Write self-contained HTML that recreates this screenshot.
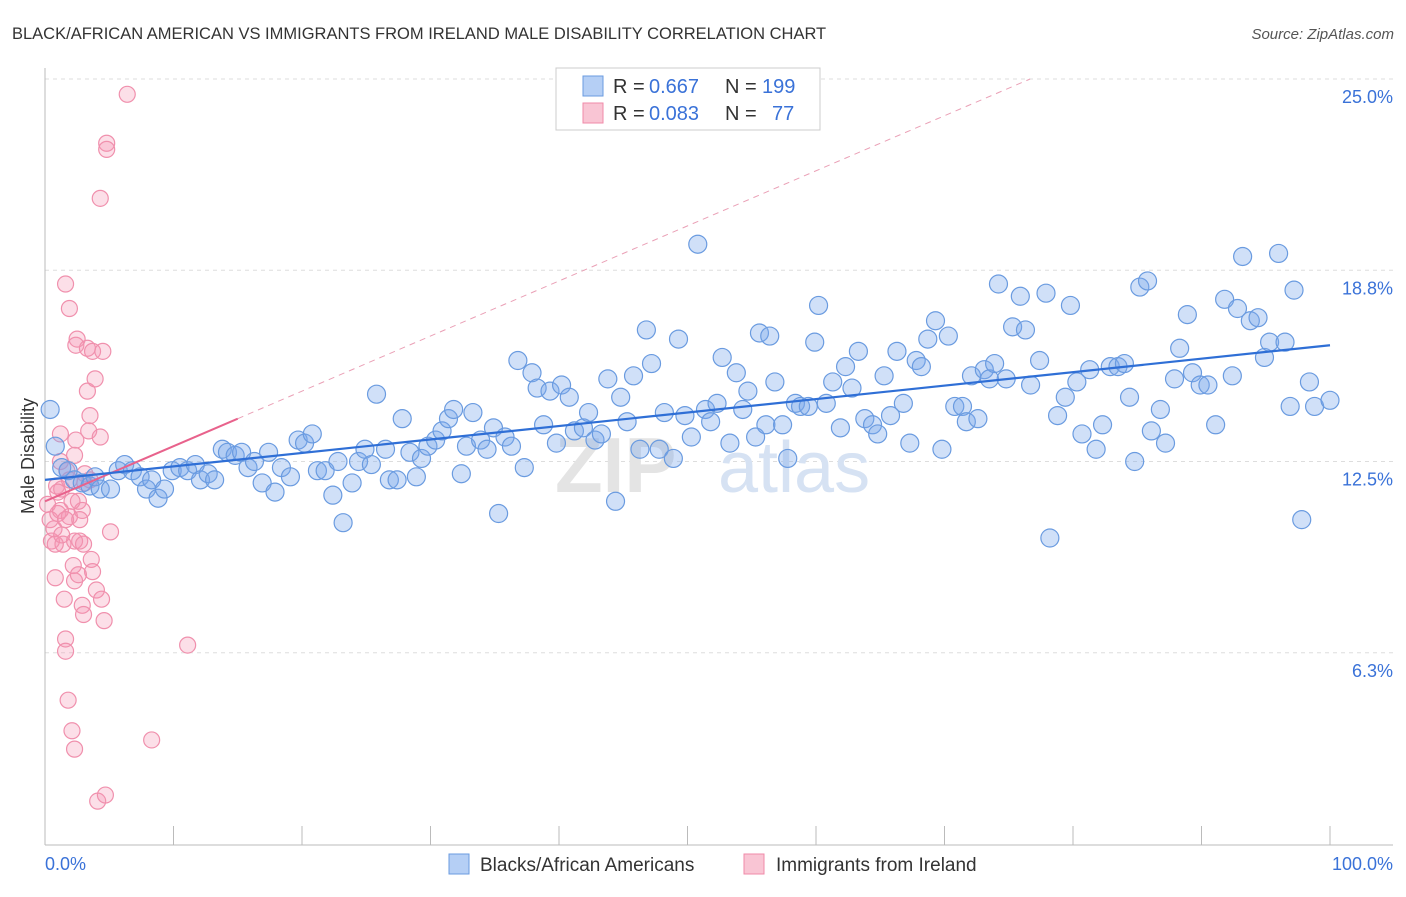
<!DOCTYPE html>
<html><head><meta charset="utf-8"><style>
body{margin:0;background:#fff;font-family:"Liberation Sans",sans-serif;}
svg text{font-family:"Liberation Sans",sans-serif;}
</style></head><body>
<svg id="chart" width="1406" height="892" xmlns="http://www.w3.org/2000/svg">
<text x="12" y="39" font-size="16.5" fill="#333">BLACK/AFRICAN AMERICAN VS IMMIGRANTS FROM IRELAND MALE DISABILITY CORRELATION CHART</text>
<text x="1394" y="39" font-size="15" fill="#555" font-style="italic" text-anchor="end">Source: ZipAtlas.com</text>
<g id="grid"></g>
<text x="555" y="492" font-size="78" font-weight="bold" fill="#e4e4e4">ZIP</text>
<text x="718" y="492" font-size="72" fill="#d6e2f3">atlas</text>
<g id="axes"></g>
<g id="pinkpts"></g>
<g id="bluepts"></g>
<g id="trends"></g>
<g>
<rect x="556" y="68" width="264" height="62" fill="#fff" stroke="#ccc"/>
<rect x="583" y="76" width="20" height="20" fill="#b5cff5" stroke="#6a9be0"/>
<text x="613" y="93" font-size="20" fill="#333">R =</text>
<text x="649" y="93" font-size="20" fill="#3a72d8">0.667</text>
<text x="725" y="93" font-size="20" fill="#333">N =</text>
<text x="762" y="93" font-size="20" fill="#3a72d8">199</text>
<rect x="583" y="103" width="20" height="20" fill="#f9c5d4" stroke="#f08aa8"/>
<text x="613" y="120" font-size="20" fill="#333">R =</text>
<text x="649" y="120" font-size="20" fill="#3a72d8">0.083</text>
<text x="725" y="120" font-size="20" fill="#333">N =</text>
<text x="772" y="120" font-size="20" fill="#3a72d8">77</text>
</g>
<g>
<rect x="449" y="854" width="20" height="20" fill="#b5cff5" stroke="#6a9be0"/>
<text x="480" y="871" font-size="19" fill="#333">Blacks/African Americans</text>
<rect x="744" y="854" width="20" height="20" fill="#f9c5d4" stroke="#f08aa8"/>
<text x="776" y="871" font-size="19" fill="#333">Immigrants from Ireland</text>
</g>
<text x="34" y="456" font-size="18" fill="#333" text-anchor="middle" transform="rotate(-90 34 456)">Male Disability</text>
</svg>
<script>
const yTicks=[25,18.75,12.5,6.25];
const yTickLabels=["25.0%","18.8%","12.5%","6.3%"];
const xTickLabels=["0.0%","100.0%"];
const blueX=[0.4,0.8,1.3,1.8,2.3,2.9,3.5,3.9,4.3,5.1,5.7,6.2,6.8,7.4,7.9,8.3,8.8,9.3,9.9,10.5,11.1,11.7,12.1,12.7,13.2,13.8,14.2,14.8,15.3,15.8,16.3,16.9,17.4,17.9,18.4,19.1,19.7,20.2,20.8,21.2,21.8,22.4,22.8,23.2,23.9,24.4,24.9,25.4,25.8,26.5,26.8,27.4,27.8,28.4,28.9,29.3,29.8,30.4,30.9,31.4,31.8,32.4,32.8,33.3,33.9,34.4,34.9,35.3,35.8,36.3,36.8,37.3,37.9,38.3,38.8,39.3,39.8,40.2,40.8,41.2,41.9,42.3,42.8,43.3,43.8,44.4,44.8,45.3,45.8,46.3,46.8,47.2,47.8,48.2,48.9,49.3,49.8,50.3,50.8,51.4,51.8,52.3,52.7,53.3,53.8,54.3,54.7,55.3,55.6,56.1,56.4,56.8,57.4,57.8,58.4,58.8,59.4,59.9,60.2,60.8,61.3,61.9,62.3,62.8,63.3,63.8,64.4,64.8,65.3,65.8,66.3,66.8,67.3,67.8,68.2,68.7,69.3,69.8,70.3,70.8,71.4,71.7,72.1,72.6,73.1,73.5,73.9,74.2,74.8,75.3,75.9,76.3,76.7,77.4,77.9,78.2,78.8,79.4,79.8,80.3,80.7,81.3,81.8,82.3,82.9,83.5,84.0,84.4,84.8,85.2,85.8,86.1,86.8,87.2,87.9,88.3,88.9,89.3,89.9,90.5,91.1,91.8,92.4,92.8,93.2,93.8,94.4,94.9,95.3,96.0,96.5,96.9,97.2,97.8,98.4,98.8,100];
const blueY=[14.2,13.0,12.3,12.2,11.9,11.8,11.7,12.0,11.6,11.6,12.2,12.4,12.2,12.0,11.6,11.9,11.3,11.6,12.2,12.3,12.2,12.4,11.9,12.1,11.9,12.9,12.8,12.7,12.8,12.3,12.5,11.8,12.8,11.5,12.3,12.0,13.2,13.1,13.4,12.2,12.2,11.4,12.5,10.5,11.8,12.5,12.9,12.4,14.7,12.9,11.9,11.9,13.9,12.8,12.0,12.6,13.0,13.2,13.5,13.9,14.2,12.1,13.0,14.1,13.2,12.9,13.6,10.8,13.3,13.0,15.8,12.3,15.4,14.9,13.7,14.8,13.1,15.0,14.6,13.5,13.6,14.1,13.2,13.4,15.2,11.2,14.6,13.8,15.3,12.9,16.8,15.7,12.9,14.1,12.6,16.5,14.0,13.3,19.6,14.2,13.8,14.4,15.9,13.1,15.4,14.2,14.8,13.3,16.7,13.7,16.6,15.1,13.7,12.6,14.4,14.3,14.3,16.4,17.6,14.4,15.1,13.6,15.6,14.9,16.1,13.9,13.7,13.4,15.3,14.0,16.1,14.4,13.1,15.8,15.6,16.5,17.1,12.9,16.6,14.3,14.3,13.8,15.3,13.9,15.5,15.2,15.7,18.3,15.2,16.9,17.9,16.8,15.0,15.8,18.0,10.0,14.0,14.6,17.6,15.1,13.4,15.5,12.9,13.7,15.6,15.6,15.7,14.6,12.5,18.2,18.4,13.5,14.2,13.1,15.2,16.2,17.3,15.4,15.0,15.0,13.7,17.8,15.3,17.5,19.2,17.1,17.2,15.9,16.4,19.3,16.4,14.3,18.1,10.6,15.1,14.3,14.5];
const pinkX=[0.2,0.4,0.5,0.7,0.8,0.9,1.0,1.2,1.2,1.3,1.4,1.5,1.6,1.6,1.6,1.8,1.9,1.9,2.1,2.3,2.2,2.3,2.3,2.4,2.4,2.5,2.6,2.7,2.9,2.9,3.0,3.1,3.3,3.3,3.4,3.5,3.6,3.7,3.7,3.9,4.0,4.1,4.3,4.4,4.5,4.6,4.7,4.8,4.8,4.3,5.1,6.4,8.3,11.1,0.8,1.0,1.3,1.7,1.9,2.7,3.1,2.3,1.2,1.6,2.1,3.5,2.6,3.0];
const pinkY=[11.1,10.6,9.9,10.3,8.7,11.7,10.8,13.4,12.5,11.6,9.8,8.0,6.7,6.3,18.3,4.7,17.5,10.7,3.7,3.1,9.1,8.6,12.7,13.2,16.3,16.5,11.2,9.9,10.9,7.8,7.5,12.1,14.8,16.2,13.5,14.0,9.3,8.9,16.1,15.2,8.3,1.4,13.3,8.0,16.1,7.3,1.6,22.9,22.7,21.1,10.2,24.5,3.4,6.5,9.8,11.5,10.1,12.2,11.9,10.6,11.8,9.9,10.9,10.6,11.2,11.9,8.8,9.8];
const blueTrend=[11.9,16.3];   // y at x=0, y at x=100
const pinkTrend=[11.2,0.18];  // intercept, slope per %

const NS="http://www.w3.org/2000/svg";
const X0=45,X1=1330,YB=844,PPU=30.6;
const sx=v=>X0+(X1-X0)*v/100;
const sy=v=>YB-v*PPU;
function mk(tag,attrs,parent){const e=document.createElementNS(NS,tag);for(const k in attrs)e.setAttribute(k,attrs[k]);parent.appendChild(e);return e;}
const grid=document.getElementById('grid');
yTicks.forEach((t,i)=>{
  const l=mk('line',{x1:X0,x2:1393,y1:sy(t),y2:sy(t),stroke:'#ddd','stroke-dasharray':'4,4'},grid);
  
  
  const tx=mk('text',{x:1393,y:sy(t)+24,'font-size':18,fill:'#3a72d8','text-anchor':'end'},grid);
  tx.textContent=yTickLabels[i];
  
  
});
const axes=document.getElementById('axes');
let a=mk('line',{x1:X0,x2:X0,y1:68,y2:845,stroke:'#bbb'},axes);


a=mk('line',{x1:X0,x2:1393,y1:845,y2:845,stroke:'#bbb'},axes);


for(let i=0;i<=10;i++){
  const t=mk('line',{x1:sx(i*10),x2:sx(i*10),y1:826,y2:845,stroke:'#bbb'},axes);
  
  
}
let xl=mk('text',{x:45,y:870,'font-size':18,fill:'#3a72d8'},axes);xl.textContent=xTickLabels[0];


xl=mk('text',{x:1393,y:870,'font-size':18,fill:'#3a72d8','text-anchor':'end'},axes);xl.textContent=xTickLabels[1];



const pg=document.getElementById('pinkpts');
pinkX.forEach((x,i)=>{
  const c=mk('circle',{cx:sx(x),cy:sy(pinkY[i]),r:8,fill:'rgba(244,150,180,0.3)',stroke:'#f090ad','stroke-width':1.2},pg);
  
  
});
const bg=document.getElementById('bluepts');
blueX.forEach((x,i)=>{
  const c=mk('circle',{cx:sx(x),cy:sy(blueY[i]),r:9,fill:'rgba(120,165,235,0.35)',stroke:'#6a9be0','stroke-width':1.2},bg);
  
  
});
const tg=document.getElementById('trends');
const pAt=x=>pinkTrend[0]+pinkTrend[1]*x;
const xEnd=(25-pinkTrend[0])/pinkTrend[1];
let tl=mk('line',{x1:sx(15),y1:sy(pAt(15)),x2:sx(xEnd),y2:sy(pAt(xEnd)),stroke:'#eaa0b6','stroke-width':1,'stroke-dasharray':'6,5'},tg);


tl=mk('line',{x1:sx(0),y1:sy(pAt(0)),x2:sx(15),y2:sy(pAt(15)),stroke:'#e8628c','stroke-width':2},tg);


tl=mk('line',{x1:sx(0),y1:sy(blueTrend[0]),x2:sx(100),y2:sy(blueTrend[1]),stroke:'#2f6fd6','stroke-width':2.2},tg);


</script>
</body></html>
